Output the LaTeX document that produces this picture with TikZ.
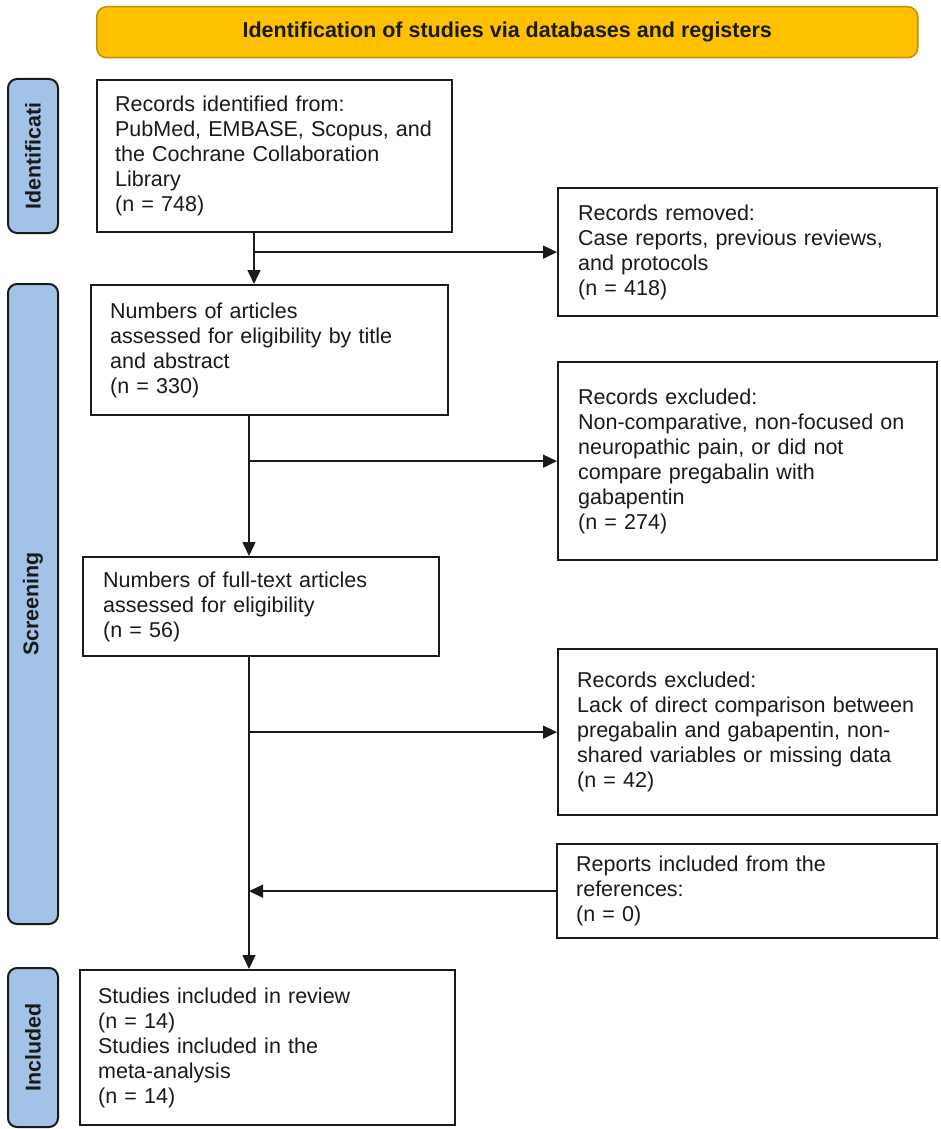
\documentclass[tikz,border=0pt]{standalone}
\usepackage{fontspec}
\setmainfont{Liberation Sans}
\usetikzlibrary{arrows.meta,calc}
\definecolor{bannerfill}{HTML}{FFC000}
\definecolor{bannerdraw}{HTML}{BF9000}
\definecolor{phasefill}{HTML}{A3C2E8}
\definecolor{ink}{HTML}{1A1A1A}
\begin{document}
\begin{tikzpicture}[x=1pt,y=-1pt,
  box/.style={draw=ink, line width=2.3pt, fill=white, anchor=north west, align=left,
    inner ysep=0pt, text=ink, font=\fontsize{21.5}{25}\selectfont},
  phase/.style={draw=ink, line width=2pt, fill=phasefill, rounded corners=9pt,
    rotate=90, minimum height=50pt, inner sep=0pt, text=ink,
    font=\fontsize{21.4}{25}\selectfont\bfseries},
  banner/.style={draw=bannerdraw, line width=1.5pt, fill=bannerfill, rounded corners=10pt,
    anchor=north west, text=ink, font=\fontsize{21.5}{25}\selectfont\bfseries},
  flow/.style={draw=ink, line width=1.4pt, -{Triangle[length=14pt,width=13pt]}},
  plain/.style={draw=ink, line width=1.4pt}]
\useasboundingbox[fill=white] (0,0) rectangle (941,1129);

% banner
\node[banner, minimum width=821pt, minimum height=51pt] (ban) at (96,6)
  {Identification of studies via databases and registers};

% phase bars
\node[phase, minimum width=154pt] (p1) at (33,156) {Identificati};
\node[phase, minimum width=640pt] (p2) at (33,604) {Screening};
\node[phase, minimum width=159pt] (p3) at (33,1047.5) {Included};

% boxes
\node[box, inner xsep=18pt, text width=319pt, minimum height=152pt] (A) at (96,79)
  {Records identified from:\\PubMed, EMBASE, Scopus, and\\the Cochrane Collaboration\\Library\\(n = 748)};
\node[box, inner xsep=20pt, text width=339pt, minimum height=128pt] (B) at (557,187)
  {Records removed:\\Case reports, previous reviews,\\and protocols\\(n = 418)};
\node[box, inner xsep=19pt, text width=319pt, minimum height=130pt] (C) at (90,284)
  {Numbers of articles\\assessed for eligibility by title\\and abstract\\(n = 330)};
\node[box, inner xsep=20pt, text width=339pt, minimum height=198pt] (D) at (557,361)
  {Records excluded:\\Non-comparative, non-focused on\\neuropathic pain, or did not\\compare pregabalin with\\gabapentin\\(n = 274)};
\node[box, inner xsep=20pt, text width=316pt, minimum height=99pt] (E) at (82,556)
  {Numbers of full-text articles\\assessed for eligibility\\(n = 56)};
\node[box, inner xsep=19pt, text width=341pt, minimum height=166pt] (F) at (557,648)
  {Records excluded:\\Lack of direct comparison between\\pregabalin and gabapentin, non-\\shared variables or missing data\\(n = 42)};
\node[box, inner xsep=19pt, text width=342pt, minimum height=94pt] (H) at (556,843)
  {Reports included from the\\references:\\(n = 0)};
\node[box, inner xsep=18pt, text width=339pt, minimum height=155pt] (G) at (79,969)
  {Studies included in review\\(n = 14)\\Studies included in the\\meta-analysis\\(n = 14)};

% connector columns
\coordinate (x1) at (254,0);
\coordinate (x2) at (249,0);

\draw[flow] (x1 |- A.south) -- (x1 |- C.north);
\draw[flow] (x1 |- B.west) -- (B.west);
\draw[flow] (x2 |- C.south) -- (x2 |- E.north);
\draw[flow] (x2 |- D.west) -- (D.west);
\draw[flow] (x2 |- E.south) -- (x2 |- G.north);
\draw[flow] (x2 |- F.west) -- (F.west);
\draw[flow] (H.west) -- (x2 |- H.west);
\end{tikzpicture}
\end{document}
